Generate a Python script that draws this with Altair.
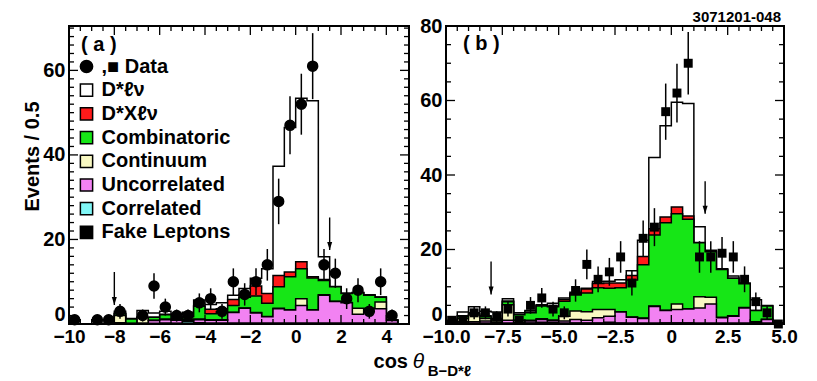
import numpy as np
import pandas as pd
import altair as alt

FONT = "Liberation Sans"

# ---------------- bins of cos(theta_B-D*l), width 0.5 ----------------
bin_lo = [-10.0, -9.5, -9.0, -8.5, -8.0, -7.5, -7.0, -6.5, -6.0, -5.5,
          -5.0, -4.5, -4.0, -3.5, -3.0, -2.5, -2.0, -1.5, -1.0, -0.5,
          0.0, 0.5, 1.0, 1.5, 2.0, 2.5, 3.0, 3.5, 4.0, 4.5]
bin_hi_last = 5.0
bin_width = 0.5

comp_names = ["D*ℓν", "D*Xℓν", "Combinatoric", "Continuum",
              "Uncorrelated", "Correlated", "Fake Leptons"]
comp_colors = ["#ffffff", "#ff1a1a", "#16e616", "#f8f8c2",
               "#f282f2", "#80f6f6", "#000000"]

# ---------------- panel (a) ----------------
a_data = [1, 0, 1, 1, 3, 0, 2, 9, 4, 2, 2, 5, 6, 3, 10, 7, 10, 14, 29, 47,
          52, 61, 14, 12, 6, 8, 3, 10, 2, 0]
a_dlnu = [0, 0, 0, 0, 0.5, 0.1, 1.6, 1.0, 0.7, 1.0, 0.9, 1.4, 1.1, 1.4, 1.0,
          1.4, 1.8, 5.9, 25.8, 34.2, 38.7, 41.6, 5.4, 0.1, 0.1, 0.1, 0.1, 0.1, 0.1, 0]
a_dxlnu = [0, 0, 0, 0, 0, 0, 0, 0, 0.1, 0, 0.1, 0.1, 1.1, 0.7, 1.4, 0.7, 2.4,
           2.3, 2.7, 1.1, 1.6, 0.3, 0.2, 0, 0, 0, 0, 0, 0, 0]
a_comb = [0, 0, 0, 0, 0.5, 1.0, 0.1, 0.7, 1.0, 0.3, 0.8, 3.0, 1.4, 1.9, 1.6,
          2.5, 3.9, 3.1, 5.1, 7.8, 7.1, 7.5, 3.4, 3.4, 2.1, 3.7, 3.1, 1.1, 0.1, 0]
a_cont = [0, 0, 0, 0, 1.7, 0.1, 1.3, 0.1, 0.2, 0.1, 0.1, 0.2, 0.1, 0.1, 0.1,
          0.1, 0.1, 0.1, 0.1, 0.1, 1.6, 0.1, 0.1, 0.1, 0.1, 1.4, 0.1, 1.6, 0, 0]
a_uncorr = [0, 0, 0, 0, 0.3, 0.1, 0.1, 0.7, 0.8, 0.7, 0.3, 0.7, 0.7, 0.7, 2.5,
            3.5, 2.4, 1.5, 3.4, 3.1, 4.2, 3.1, 6.6, 5.1, 4.8, 2.1, 3.4, 3.4, 0.7, 0]
a_corr = [0, 0, 0, 0, 0, 0, 0, 0, 0, 0.1, 0.4, 0.1, 0, 0, 0, 0, 0, 0, 0, 0,
          0, 0, 0, 0, 0, 0, 0, 0, 0, 0]
a_fake = [0, 0, 0, 0, 0, 0, 0.1, 0.1, 0.2, 0.1, 0.2, 0.2, 0.2, 0.2, 0.2, 0.2,
          0.2, 0.2, 0.2, 0.2, 0.2, 0.2, 0.2, 0.2, 0.2, 0.2, 0.2, 0.2, 0.1, 0]
a_arrow_x = [-8.0, 1.5]
a_arrow_top = [12.3, 25.2]
a_arrow_tip = [4.5, 17.5]

# ---------------- panel (b) ----------------
b_data = [1, 1, 3, 3, 2, 4, 1, 5, 7, 4, 3, 9, 16, 12, 14, 18, 11, 23, 26, 57,
          62, 70, 18, 18, 19, 18, 12, 6, 3, 0]
b_dlnu = [0.2, 1.0, 1.6, 1.2, 1.7, 0.6, 0.4, 0.4, 0.2, 0.8, 0.4, 0.4, 0.2, 0.5,
          0.5, 0.9, 1.3, 4.4, 19.1, 24.5, 28.1, 30.2, 4.2, 0.3, 0.2, 0.6, 0.2, 2.9, 0.2, 0]
b_dxlnu = [0, 0.2, 0.2, 0.2, 0.2, 0.2, 0.1, 0.2, 0.2, 0.2, 0.5, 0.3, 1.1, 1.2,
           1.4, 1.3, 1.2, 2.2, 1.7, 1.5, 1.8, 0.9, 0.1, 0.1, 0, 0, 0, 0, 0, 0]
b_comb = [0.1, 0.5, 0.4, 0.5, 0.5, 0.8, 1.5, 2.0, 3.4, 3.5, 4.0, 4.3, 5.0, 5.8,
          5.7, 6.4, 9.9, 14.3, 19.1, 23.5, 24.2, 24.0, 14.5, 12.2, 12.8, 10.1, 6.4, 3.0, 3.5, 0.1]
b_cont = [0.2, 0.9, 1.8, 0.7, 0.3, 4.2, 0.5, 0.2, 0.2, 0.2, 1.3, 2.3, 2.3, 2.2,
          1.8, 0.1, 0.1, 0.1, 0.1, 0.1, 1.5, 0.1, 3.0, 1.8, 0.1, 0.1, 0.1, 0.1, 0.1, 0]
b_uncorr = [0.2, 0.3, 0.4, 0.6, 0.3, 0.8, 0.3, 0.5, 0.7, 0.5, 0.6, 0.9, 0.7, 1.4,
            1.6, 2.9, 1.6, 1.3, 4.5, 3.3, 3.6, 3.7, 4.1, 5.2, 1.5, 1.9, 4.1, 0.3, 1.0, 0.1]
b_corr = [0, 0, 0, 0, 0, 0, 0, 0.1, 0.3, 0.2, 0, 0.1, 0.1, 0.1, 0.3, 0.1, 0, 0,
          0, 0, 0, 0, 0, 0, 0, 0, 0, 0, 0, 0]
b_fake = [0.3, 0.3, 0.2, 0.2, 0.2, 0.2, 0.2, 0.2, 0.2, 0.2, 0.2, 0.2, 0.2, 0.2,
          0.2, 0.2, 0.2, 0.2, 0.2, 0.3, 0.3, 0.3, 0.2, 0.2, 0.2, 0.2, 0.2, 0.2, 0.2, 0.1]
b_arrow_x = [-8.0, 1.5]
b_arrow_top = [16.8, 38.3]
b_arrow_tip = [7.9, 29.6]

# legend
legend_labels = [",■ Data"] + comp_names
legend_colors = ["#000000"] + comp_colors
legend_shapes = ["circle"] + ["square"] * 7

ARROW_HEAD = "M-1,-3.2L1,-3.2L0,0Z"


def build_panel(comps, counts, drop_zero, point_kind, x_axis, y_axis, y_max,
                W, H, x_major, x_minor, y_major, y_minor, arrows, texts, legend=None):
    xs = alt.Scale(domain=[-10, 5], nice=False, zero=False)
    ys = alt.Scale(domain=[0, y_max], nice=False, zero=False)

    def X(f="x"):
        return alt.X(f"{f}:Q", scale=xs, axis=x_axis)

    def Y(f="y"):
        return alt.Y(f"{f}:Q", scale=ys, axis=y_axis)

    layers = []
    order = list(reversed(comp_names))  # bottom -> top
    cum = np.zeros(len(bin_lo))
    cums = {}
    for n in order:
        cum = cum + np.array(comps[n], dtype=float)
        cums[n] = cum.copy()
    edges = list(bin_lo) + [bin_hi_last]
    for n, col in zip(comp_names, comp_colors):  # draw top first
        vals = list(cums[n]) + [cums[n][-1]]
        df = pd.DataFrame({"x": edges, "y": vals})
        layers.append(
            alt.Chart(df).mark_area(interpolate="step-after", fill=col,
                                    stroke="black", strokeWidth=1.5,
                                    clip=True).encode(x=X(), y=Y()))

    adf = pd.DataFrame({"x": arrows[0], "top": arrows[1], "tip": arrows[2]})
    layers.append(alt.Chart(adf).mark_rule(color="black", strokeWidth=1.4)
                  .encode(x=X(), y=Y("top"), y2="tip:Q"))
    layers.append(alt.Chart(adf).mark_point(shape=ARROW_HEAD, filled=True,
                                            color="black", size=25, opacity=1)
                  .encode(x=X(), y=Y("tip")))

    centers = [b + bin_width / 2 for b in bin_lo]
    n = np.array(counts, dtype=float)
    err = np.sqrt(n)
    pdf = pd.DataFrame({"x": centers, "y": n, "lo": n - err, "hi": n + err,
                        "name": legend_labels[0]})
    if drop_zero:
        pdf = pdf[pdf["y"] > 0]
    layers.append(alt.Chart(pdf).mark_rule(color="black", strokeWidth=1.5, clip=True)
                  .encode(x=X(), y=Y("lo"), y2="hi:Q"))
    if point_kind == "circle":
        fill_enc = alt.Fill("name:N",
                            scale=alt.Scale(domain=legend_labels, range=legend_colors),
                            legend=legend)
        shape_enc = alt.Shape("name:N",
                              scale=alt.Scale(domain=legend_labels, range=legend_shapes),
                              legend=legend)
        stroke_enc = alt.Stroke("name:N",
                                scale=alt.Scale(domain=legend_labels,
                                                range=["#000000"] * len(legend_labels)),
                                legend=legend)
        layers.append(alt.Chart(pdf).mark_point(filled=True, size=100,
                                                strokeWidth=1.5, opacity=1)
                      .encode(x=X(), y=Y(), fill=fill_enc, shape=shape_enc,
                              stroke=stroke_enc))
    else:
        layers.append(alt.Chart(pdf).mark_square(color="black", size=80, opacity=1)
                      .encode(x=X(), y=Y()))

    for vals, L in ((x_major, 9), (x_minor, 5)):
        df = pd.DataFrame({"x": vals})
        layers.append(alt.Chart(df).mark_rule(color="black", strokeWidth=1.3)
                      .encode(x=X(), y=alt.value(0), y2=alt.value(L)))
        layers.append(alt.Chart(df).mark_rule(color="black", strokeWidth=1.3)
                      .encode(x=X(), y=alt.value(H), y2=alt.value(H - L)))
    for vals, L in ((y_major, 9), (y_minor, 5)):
        df = pd.DataFrame({"y": vals})
        layers.append(alt.Chart(df).mark_rule(color="black", strokeWidth=1.3)
                      .encode(y=Y(), x=alt.value(0), x2=alt.value(L)))
        layers.append(alt.Chart(df).mark_rule(color="black", strokeWidth=1.3)
                      .encode(y=Y(), x=alt.value(W), x2=alt.value(W - L)))

    for t in texts:
        txt, px, py, kw = t
        layers.append(alt.Chart(pd.DataFrame({"t": [txt]}))
                      .mark_text(font=FONT, color="black", **kw)
                      .encode(text="t:N", x=alt.value(px), y=alt.value(py)))

    return alt.layer(*layers).properties(width=W, height=H)


H = 298
WA, WB = 340, 338

common_axis = dict(ticks=False, domain=False, grid=False, labelFont=FONT,
                   labelFontWeight="bold", labelColor="black", labelOverlap=False)
zero_base = {"condition": {"test": "datum.value === 0", "value": "bottom"},
             "value": "middle"}

xa_axis = alt.Axis(values=[-10, -8, -6, -4, -2, 0, 2, 4], labelFontSize=19,
                   labelPadding=3, labelFlush=False, title=None, **common_axis)
ya_axis = alt.Axis(values=[0, 20, 40, 60], labelFontSize=20, labelPadding=4,
                   labelBaseline=zero_base, title="Events / 0.5", titleFont=FONT,
                   titleFontSize=20, titleFontWeight="bold", titleColor="black",
                   titleX=-37, titleY=130, titleAngle=270, titleAlign="center",
                   titleBaseline="middle", **common_axis)
xb_axis = alt.Axis(values=[-10, -7.5, -5, -2.5, 0, 2.5, 5], labelFontSize=19,
                   labelPadding=3, labelFlush=False, title=None,
                   labelExpr="datum.value === 0 ? '0' : format(datum.value, '.1f')",
                   **common_axis)
yb_axis = alt.Axis(values=[0, 20, 40, 60, 80], labelFontSize=20, labelPadding=4,
                   labelBaseline=zero_base, title=None, **common_axis)

legend_a = alt.Legend(title=None, orient="none", legendX=7.5, legendY=30.5,
                      labelFont=FONT, labelFontSize=20, labelFontWeight="bold",
                      labelColor="black", symbolSize=150, symbolStrokeColor="black",
                      symbolStrokeWidth=1.5, symbolOpacity=1, rowPadding=3.7,
                      labelOffset=5, padding=0, labelLimit=400)

comps_a = dict(zip(comp_names, [a_dlnu, a_dxlnu, a_comb, a_cont, a_uncorr, a_corr, a_fake]))
comps_b = dict(zip(comp_names, [b_dlnu, b_dxlnu, b_comb, b_cont, b_uncorr, b_corr, b_fake]))

a_xmajor = [-10, -8, -6, -4, -2, 0, 2, 4]
a_xminor = [float(v) for v in np.arange(-10, 5.001, 0.5) if v not in a_xmajor]
a_ymajor = [0, 20, 40, 60]
a_yminor = [v for v in range(0, 71, 2) if v not in a_ymajor]
b_xmajor = [-10, -7.5, -5, -2.5, 0, 2.5, 5]
b_xminor = [float(v) for v in np.arange(-10, 5.001, 0.5) if v not in b_xmajor]
b_ymajor = [0, 20, 40, 60, 80]
b_yminor = [v for v in range(0, 81, 5) if v not in b_ymajor]

texts_a = [("( a )", 12, 18.5, dict(fontSize=20, fontWeight="bold", align="left", baseline="middle"))]
texts_b = [
    ("( b )", 17, 18.2, dict(fontSize=20, fontWeight="bold", align="left", baseline="middle")),
    ("3071201-048", 335, -9.3, dict(fontSize=15, fontWeight="bold", align="right", baseline="middle")),
    ("cos", -38, 341.9, dict(fontSize=20, fontWeight="bold", align="right", baseline="alphabetic")),
    ("θ", -33.3, 341.9, dict(fontSize=21, fontStyle="italic", align="left", baseline="alphabetic")),
    ("B−D*ℓ", -18.3, 350.2, dict(fontSize=15, fontWeight="bold", align="left", baseline="alphabetic")),
]

pa = build_panel(comps_a, a_data, True, "circle", xa_axis, ya_axis, 70.5, WA, H,
                 a_xmajor, a_xminor, a_ymajor, a_yminor,
                 (a_arrow_x, a_arrow_top, a_arrow_tip), texts_a, legend=legend_a)
pb = build_panel(comps_b, b_data, False, "square", xb_axis, yb_axis, 80, WB, H,
                 b_xmajor, b_xminor, b_ymajor, b_yminor,
                 (b_arrow_x, b_arrow_top, b_arrow_tip), texts_b)

chart = (alt.hconcat(pa, pb, spacing=37, bounds="flush")
         .properties(padding={"left": 13, "top": 0, "right": 5, "bottom": 0},
                     background="white")
         .configure_view(stroke="black", strokeWidth=2))

chart.save("out.html", embed_options={"renderer": "svg", "actions": False})
